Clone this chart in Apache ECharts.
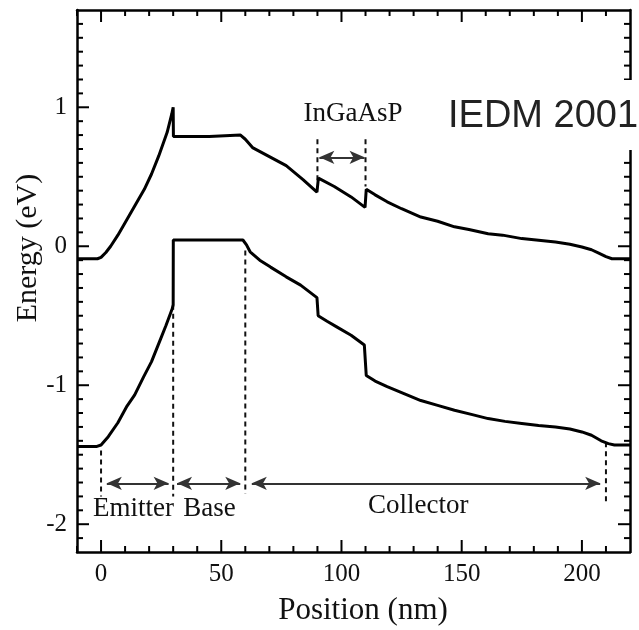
<!DOCTYPE html>
<html><head><meta charset="utf-8">
<script src="https://cdn.jsdelivr.net/npm/echarts@6/dist/echarts.min.js"></script>
<style>html,body{margin:0;padding:0;background:#fff}#c{width:639px;height:630px}</style>
</head><body><div id="c"></div>
<script>
// ---- data (nm, eV) ----
const condX = [-10, -1.5, 0, 2, 4, 7, 10, 14, 18, 21, 24, 27.5, 29.4, 30, 30.1, 45, 58, 60, 63, 70, 77, 84, 89.8, 90, 90.4, 97, 104, 109.8, 110, 110.3, 114, 119, 125, 133, 140, 147, 153, 161, 167, 175, 181, 189, 195, 200, 204, 207, 210, 212.5, 220];
const condE = [-0.09, -0.09, -0.08, -0.045, 0.0, 0.08, 0.17, 0.29, 0.41, 0.52, 0.65, 0.82, 0.95, 1.0, 0.79, 0.79, 0.80, 0.77, 0.71, 0.645, 0.58, 0.48, 0.39, 0.385, 0.49, 0.43, 0.355, 0.28, 0.28, 0.41, 0.37, 0.32, 0.27, 0.21, 0.18, 0.14, 0.12, 0.09, 0.08, 0.055, 0.045, 0.03, 0.015, -0.005, -0.025, -0.05, -0.075, -0.09, -0.09];
const valX = [-10, -1.7, 0, 3, 7, 10.8, 14, 17.7, 21, 24.7, 27, 29.6, 30, 30.05, 45, 59, 60.5, 62, 66, 70.5, 77, 83, 89.8, 90, 90.3, 94, 98, 104, 109.5, 110, 110.3, 114, 119, 126, 133, 140, 147, 154, 161, 168, 175, 182, 189, 195, 200, 204, 208, 211, 213.5, 220];
const valE = [-1.44, -1.44, -1.43, -1.37, -1.27, -1.15, -1.07, -0.94, -0.83, -0.67, -0.57, -0.45, -0.42, 0.045, 0.045, 0.045, 0.01, -0.04, -0.10, -0.15, -0.22, -0.28, -0.37, -0.38, -0.50, -0.54, -0.58, -0.64, -0.71, -0.72, -0.93, -0.97, -1.01, -1.06, -1.11, -1.145, -1.18, -1.21, -1.24, -1.26, -1.275, -1.29, -1.30, -1.315, -1.336, -1.36, -1.40, -1.42, -1.43, -1.43];

const dividerX = [0, 30, 60, 90, 110, 210];
const dividerTop = [-1.47, -0.42, -0.03, 0.77, 0.77, -1.41];
const dividerBottom = [-1.80, -1.80, -1.78, 0.47, 0.43, -1.85];

const arrowFrom = [2.4, 31.6, 62.7, 90.8];
const arrowTo = [28.1, 57.9, 207.6, 109.6];
const arrowE = [-1.706, -1.706, -1.706, 0.64];

const regionNames = ['Emitter', 'Base', 'Collector', 'InGaAsP'];
const regionX = [13.5, 45.1, 131.9, 104.8];
const regionE = [-1.89, -1.89, -1.87, 0.95];

const xTickLabels = [0, 50, 100, 150, 200];
const yTickLabels = [-2, -1, 0, 1];
const xMinorTicks = [-10, 0, 10, 20, 30, 40, 50, 60, 70, 80, 90, 100, 110, 120, 130, 140, 150, 160, 170, 180, 190, 200, 210];
const yMinorTicks = [-2.1, -2.0, -1.9, -1.8, -1.7, -1.6, -1.5, -1.4, -1.3, -1.2, -1.1, -1.0, -0.9, -0.8, -0.7, -0.6, -0.5, -0.4, -0.3, -0.2, -0.1, 0, 0.1, 0.2, 0.3, 0.4, 0.5, 0.6, 0.7, 0.8, 0.9, 1.0, 1.1, 1.2, 1.3, 1.4, 1.5, 1.6];
const xRange = [-10, 220];
const yRange = [-2.2, 1.7];

// ---- chart ----
const SERIF = 'Liberation Serif';
const chart = echarts.init(document.getElementById('c'));
const noAnim = {animation: false, animationDuration: 0, animationDurationUpdate: 0};

function xAx(pos, labels) {
  return {
    type: 'value', position: pos, min: xRange[0], max: xRange[1], interval: 10,
    axisLine: {show: true, onZero: false, lineStyle: {color: '#000', width: 2.5}},
    axisTick: {show: false},
    axisLabel: labels
      ? {show: true, customValues: xTickLabels, margin: 10, fontSize: 25, fontFamily: SERIF, color: '#111'}
      : {show: false},
    splitLine: {show: false}
  };
}
function yAx(pos, labels) {
  return {
    type: 'value', position: pos, min: yRange[0], max: yRange[1], interval: 0.1,
    axisLine: {show: true, onZero: false, lineStyle: {color: '#000', width: 2.5}},
    axisTick: {show: false},
    axisLabel: labels
      ? {show: true, customValues: yTickLabels, margin: 10, fontSize: 25, fontFamily: SERIF, color: '#111',
         formatter: v => String(Math.round(v))}
      : {show: false},
    splitLine: {show: false}
  };
}

const TICK_STYLE = {stroke: '#000', lineWidth: 2};
function tickLines(p0, dir, len) {
  return {type: 'line', shape: {x1: p0[0], y1: p0[1], x2: p0[0] + dir[0] * len, y2: p0[1] + dir[1] * len}, style: TICK_STYLE};
}

const series = [
  Object.assign({type: 'line', data: condX.map((x, i) => [x, condE[i]]), showSymbol: false, symbol: 'none',
   lineStyle: {color: '#000', width: 3}, z: 5}, noAnim),
  Object.assign({type: 'line', data: valX.map((x, i) => [x, valE[i]]), showSymbol: false, symbol: 'none',
   lineStyle: {color: '#000', width: 3}, z: 5}, noAnim)
];
dividerX.forEach((x, i) => {
  series.push(Object.assign({type: 'line', data: [[x, dividerTop[i]], [x, dividerBottom[i]]], showSymbol: false, symbol: 'none',
    lineStyle: {color: '#111', width: 2, type: [5, 4]}, z: 3}, noAnim));
});
// x-axis ticks (bottom & top, inward)
series.push(Object.assign({
  type: 'custom', z: 4, clip: false,
  data: xMinorTicks.map(v => [v, xTickLabels.indexOf(v) >= 0 ? 1 : 0]),
  renderItem: function (params, api) {
    const v = api.value(0), len = api.value(1) ? 12 : 6;
    const b = api.coord([v, yRange[0]]), t = api.coord([v, yRange[1]]);
    return {type: 'group', children: [tickLines(b, [0, -1], len), tickLines(t, [0, 1], len)]};
  }
}, noAnim));
// y-axis ticks (left & right, inward)
series.push(Object.assign({
  type: 'custom', z: 4, clip: false,
  data: yMinorTicks.map(v => [v, yTickLabels.indexOf(v) >= 0 ? 1 : 0]),
  renderItem: function (params, api) {
    const v = api.value(0), len = api.value(1) ? 12 : 6;
    const l = api.coord([xRange[0], v]), r = api.coord([xRange[1], v]);
    return {type: 'group', children: [tickLines(l, [1, 0], len), tickLines(r, [-1, 0], len)]};
  }
}, noAnim));
series.push(Object.assign({
  type: 'custom', data: regionNames.map((n, i) => [regionX[i], regionE[i]]), z: 6,
  renderItem: function (params, api) {
    const p = api.coord([api.value(0), api.value(1)]);
    return {type: 'text', x: p[0], y: p[1],
      style: {text: regionNames[params.dataIndex], font: '27px "Liberation Serif"', fill: '#111', align: 'center', verticalAlign: 'middle'}};
  },
  markLine: Object.assign({
    silent: true, symbol: ['arrow', 'arrow'], symbolSize: [10, 15],
    lineStyle: {type: 'solid', color: '#333', width: 2}, label: {show: false},
    data: arrowFrom.map((a, i) => [{coord: [a, arrowE[i]]}, {coord: [arrowTo[i], arrowE[i]]}])
  }, noAnim)
}, noAnim));

chart.setOption(Object.assign({
  backgroundColor: '#fff',
  grid: {left: 77, top: 10, width: 553, height: 542},
  xAxis: [xAx('bottom', true), xAx('top', false)],
  yAxis: [yAx('left', true), yAx('right', false)],
  series: series,
  graphic: [
    {type: 'text', x: 28, y: 248, rotation: Math.PI / 2,
     style: {text: 'Energy (eV)', font: '30px "Liberation Serif"', fill: '#111', align: 'center', verticalAlign: 'middle'}},
    {type: 'text', x: 363, y: 611,
     style: {text: 'Position (nm)', font: '31px "Liberation Serif"', fill: '#111', align: 'center', verticalAlign: 'middle'}},
    {type: 'rect', shape: {x: 425, y: 80, width: 214, height: 70}, style: {fill: '#fff'}, z: 100},
    {type: 'text', x: 448, y: 117, z: 101,
     style: {text: 'IEDM 2001', font: '38px "Liberation Sans"', fill: '#222', align: 'left', verticalAlign: 'middle'}}
  ]
}, noAnim));
</script></body></html>
